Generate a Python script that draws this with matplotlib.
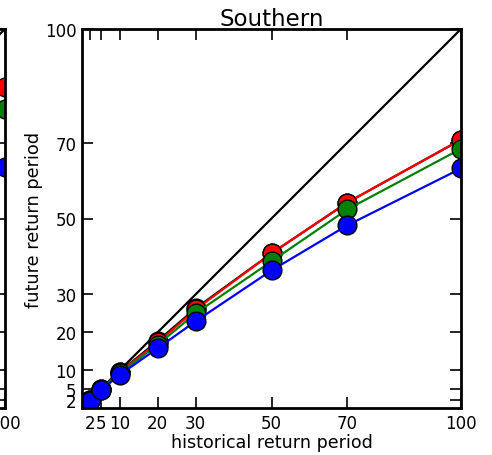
import matplotlib
matplotlib.use("Agg")
import matplotlib.pyplot as plt

hist = [2, 5, 10, 20, 30, 50, 70, 100]
ticks = [2, 5, 10, 20, 30, 50, 70, 100]

# Southern panel
south_black = [2.0, 4.9, 9.6, 17.7, 26.3, 40.8, 54.2, 70.8]
south_red = [2.0, 4.9, 9.5, 17.3, 26.0, 40.8, 54.2, 70.8]
south_green = [2.0, 4.8, 9.3, 16.7, 25.0, 38.7, 52.4, 68.4]
south_blue = [1.9, 4.7, 8.8, 15.8, 22.9, 36.3, 48.2, 63.2]

# neighbouring (cut-off) panel
left_red = [2.0, 4.9, 9.7, 18.5, 27.5, 45.0, 62.0, 84.7]
left_green = [2.0, 4.9, 9.6, 18.2, 27.0, 43.5, 59.0, 78.9]
left_blue = [1.9, 4.7, 9.0, 16.5, 24.0, 37.5, 49.0, 63.7]

W, H = 492, 456
fig = plt.figure(figsize=(W / 100, H / 100), dpi=100)

ax_w = 379 / W
ax_h = 379 / H
bottom = (H - 409) / H
ax = fig.add_axes([82 / W, bottom, ax_w, ax_h])
axl = fig.add_axes([(5 - 379) / W, bottom, ax_w, ax_h])

def draw(a, series):
    a.plot([0, 100], [0, 100], color="black", lw=1.6, zorder=1)
    for vals, col in series:
        a.plot(hist, vals, color=col, lw=1.6, marker="o", markersize=13.5,
               markeredgecolor="black", markeredgewidth=1.0, zorder=2)
    a.set_xlim(0, 100)
    a.set_ylim(0, 100)
    a.set_xticks(ticks)
    a.set_yticks(ticks)
    a.set_xticklabels([str(t) for t in ticks])
    a.set_yticklabels([str(t) for t in ticks])
    a.tick_params(direction="in", length=8, width=1.2, labelsize=12,
                  top=True, right=True, pad=4)
    for s in a.spines.values():
        s.set_linewidth(2)

draw(ax, [(south_black, "black"), (south_red, "red"),
          (south_green, "green"), (south_blue, "blue")])
draw(axl, [(left_red, "red"), (left_green, "green"), (left_blue, "blue")])

ax.set_title("Southern", fontsize=16.5, pad=3)
ax.set_xlabel("historical return period", fontsize=12.6, labelpad=1)
ax.set_ylabel("future return period", fontsize=12.8, labelpad=1)

fig.savefig("out.png", dpi=100)
